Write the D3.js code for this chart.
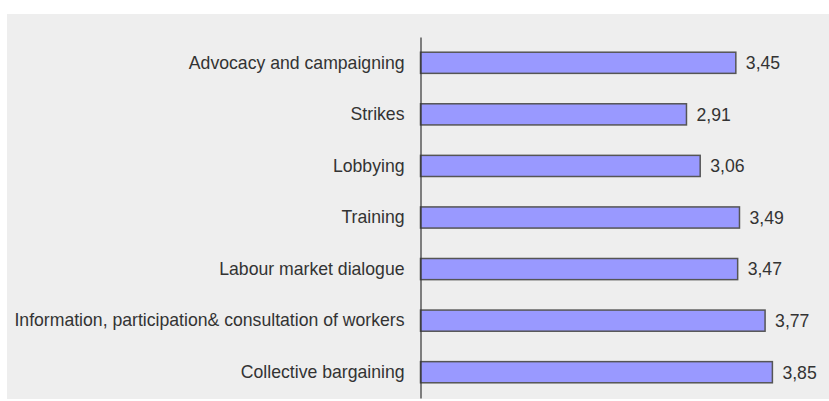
<!DOCTYPE html>
<html>
<head>
<meta charset="utf-8">
<script src="https://cdn.jsdelivr.net/npm/d3@7"></script>
<style>
  body { margin: 0; background: #fff; }
  svg text { font-family: "Liberation Sans", Arial, sans-serif; fill: #333; }
</style>
</head>
<body>
<svg class="grafico" width="829" height="401"></svg>
<script>
const categorias = [
    "Advocacy and campaigning",
    "Strikes",
    "Lobbying",
    "Training",
    "Labour market dialogue",
    "Information, participation& consultation of workers",
    "Collective bargaining"
];
const valores = [3.45, 2.91, 3.06, 3.49, 3.47, 3.77, 3.85];

const dados = categorias.map((c, i) => ({ cat: c, vlr: valores[i] }));

const W = 829, H = 401;
const X0 = 420.5;
const ESTREITO = 0.98; // fonte um pouco condensada

const $svg = d3.select(".grafico");

// fundo cinza
$svg.append("rect")
    .attr("x", 7).attr("y", 14)
    .attr("width", W - 7).attr("height", 385)
    .attr("fill", "#eeeeee");

const scale_X = d3.scaleLinear()
    .domain([0, 4])
    .range([X0, X0 + 365.6]);

const scale_Y = d3.scaleBand()
    .domain(categorias)
    .range([37, 398])
    .paddingInner(0.59)
    .paddingOuter(0.295);

$svg.selectAll("rect.barra")
    .data(dados)
    .join("rect")
    .attr("class", "barra")
    .attr("x", scale_X(0))
    .attr("y", d => scale_Y(d.cat))
    .attr("width", d => scale_X(d.vlr) - scale_X(0))
    .attr("height", scale_Y.bandwidth())
    .attr("fill", "#9999ff")
    .attr("stroke", "#555")
    .attr("stroke-width", 1.5);

// eixo vertical
const eixo = $svg.append("g")
    .attr("transform", `translate(${X0},0)`)
    .call(d3.axisLeft(scale_Y).tickSize(0).tickPadding(16));
eixo.select(".domain").attr("stroke", "#333").attr("stroke-width", 1.2);
eixo.selectAll("text")
    .style("font-size", "18px")
    .attr("font-family", null)
    .attr("fill", "#333")
    .attr("x", 0)
    .attr("transform", `translate(-16,0) scale(${ESTREITO},1)`);

// rótulos dos valores
$svg.selectAll("text.valor")
    .data(dados)
    .join("text")
    .attr("class", "valor")
    .attr("transform", d => `translate(${scale_X(d.vlr) + 10},${scale_Y(d.cat) + scale_Y.bandwidth() / 2}) scale(${ESTREITO},1)`)
    .attr("dy", "0.35em")
    .style("font-size", "18px")
    .text(d => d3.format(".2f")(d.vlr).replace(".", ","));
</script>
</body>
</html>
